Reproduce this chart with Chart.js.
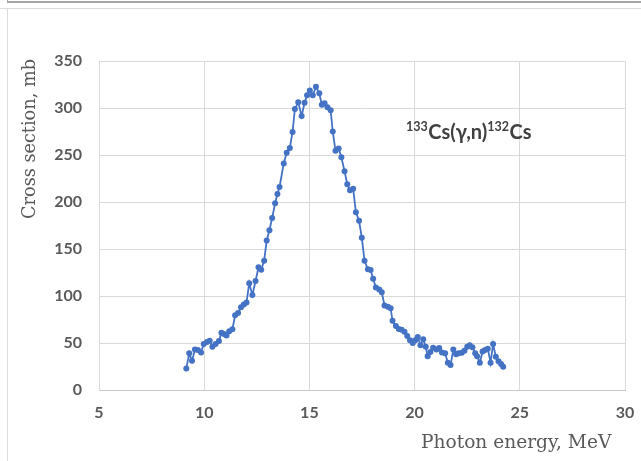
<!DOCTYPE html>
<html>
<head>
<meta charset="utf-8">
<script src="https://cdn.jsdelivr.net/npm/chart.js@4"></script>
<style>
  html, body { margin: 0; padding: 0; background: #fff; }
  #wrap { position: relative; width: 641px; height: 461px; }
</style>
</head>
<body>
<div id="wrap"><canvas id="c" width="641" height="461"></canvas></div>
<script>
// Photon energy (MeV)
const energy = [
  9.15, 9.29, 9.42, 9.56, 9.70, 9.85, 9.98, 10.13, 10.26, 10.39,
  10.54, 10.70, 10.82, 10.94, 11.06, 11.19, 11.34, 11.47, 11.61, 11.75,
  11.88, 12.01, 12.14, 12.29, 12.44, 12.58, 12.71, 12.85, 12.97, 13.10,
  13.23, 13.37, 13.48, 13.58, 13.78, 13.92, 14.07, 14.20, 14.31, 14.47,
  14.63, 14.77, 14.89, 15.02, 15.16, 15.31, 15.47, 15.59, 15.72, 15.86,
  16.01, 16.11, 16.24, 16.39, 16.52, 16.67, 16.80, 16.93, 17.08, 17.21,
  17.36, 17.49, 17.62, 17.78, 17.91, 18.03, 18.16, 18.32, 18.44, 18.57,
  18.73, 18.86, 18.95, 19.11, 19.25, 19.38, 19.52, 19.65, 19.78, 19.91,
  20.03, 20.15, 20.28, 20.41, 20.53, 20.62, 20.75, 20.88, 21.04, 21.17,
  21.30, 21.45, 21.58, 21.71, 21.84, 21.97, 22.09, 22.24, 22.37, 22.50,
  22.62, 22.75, 22.88, 22.97, 23.10, 23.23, 23.35, 23.48, 23.61, 23.73,
  23.86, 23.99, 24.11, 24.21
];
// Cross section (mb)
const crossSection = [
  23, 39, 31, 43, 42.5, 40, 49, 51, 52.5, 46,
  49, 52, 61, 59.6, 58, 62.5, 64.6, 79.5, 82, 88,
  91, 93, 113.5, 101, 116, 130.5, 128, 137.6, 159, 170,
  183, 198.6, 208.5, 216, 241, 252.5, 257.5, 274.5, 299, 306,
  291.5, 305.5, 313.5, 318.5, 313.5, 322.5, 315.7, 303.5, 305, 300.8,
  297.5, 275, 254.5, 257, 247.6, 232.8, 219, 212.5, 214, 189,
  180, 162, 137.6, 128.5, 127.7, 118.4, 109, 107, 104, 90,
  88.6, 87, 73.7, 68, 65, 64, 62, 57.5, 53, 50,
  53, 56.5, 47.5, 54, 46, 36, 40.4, 45, 43, 44.7,
  40, 39, 29, 26.5, 43, 38, 39, 39.7, 41.8, 46,
  47.5, 45.4, 39, 36, 29, 41, 42.5, 44, 29, 49,
  35.4, 30.5, 27.7, 24.8
];
const xTicks = [5, 10, 15, 20, 25, 30];
const yTicks = [0, 50, 100, 150, 200, 250, 300, 350];
const yTitle = "Cross section, mb";
const xTitle = "Photon energy, MeV";
const annotation = [["133", true], ["Cs(γ,n)", false], ["132", true], ["Cs", false]];

const points = energy.map((e, i) => ({ x: e, y: crossSection[i] }));

function fitFont(ctx, text, family, targetWidth) {
  ctx.font = '20px ' + family;
  const w = ctx.measureText(text).width;
  return 20 * targetWidth / w;
}

const decor = {
  id: 'decor',
  beforeDraw(chart) {
    const ctx = chart.ctx;
    ctx.save();
    ctx.fillStyle = '#ffffff';
    ctx.fillRect(0, 0, chart.width, chart.height);
    ctx.strokeStyle = '#a6a6a6';
    ctx.lineWidth = 2;
    ctx.beginPath(); ctx.moveTo(7, 2); ctx.lineTo(641, 2); ctx.stroke();
    ctx.lineWidth = 1;
    ctx.beginPath(); ctx.moveTo(7.5, 0); ctx.lineTo(7.5, 3); ctx.stroke();
    ctx.strokeStyle = '#dcdcdc';
    ctx.beginPath(); ctx.moveTo(0, 8.5); ctx.lineTo(641, 8.5); ctx.stroke();
    ctx.beginPath(); ctx.moveTo(7.5, 8.5); ctx.lineTo(7.5, 461); ctx.stroke();
    ctx.restore();
  },
  afterDraw(chart) {
    const ctx = chart.ctx;
    const serif = '"DejaVu Serif", serif';
    ctx.save();
    ctx.fillStyle = '#595959';
    let fs = fitFont(ctx, yTitle, serif, 160);
    ctx.font = fs.toFixed(1) + 'px ' + serif;
    ctx.save();
    ctx.translate(30, 139);
    ctx.rotate(-Math.PI / 2);
    ctx.textAlign = 'center';
    ctx.textBaseline = 'middle';
    ctx.fillText(yTitle, 0, 0);
    ctx.restore();
    fs = fitFont(ctx, xTitle, serif, 190);
    ctx.font = fs.toFixed(1) + 'px ' + serif;
    ctx.textAlign = 'left';
    ctx.textBaseline = 'alphabetic';
    ctx.fillText(xTitle, 421, 448);
    ctx.fillStyle = '#404040';
    let x = 406;
    const base = 139;
    annotation.forEach(([t, sup]) => {
      ctx.font = sup ? 'bold 12.5px Lato, sans-serif' : 'bold 20px Lato, sans-serif';
      ctx.fillText(t, x, sup ? base - 8 : base);
      x += ctx.measureText(t).width + (sup ? 0.5 : 0);
    });
    ctx.restore();
  }
};

new Chart(document.getElementById('c'), {
  type: 'scatter',
  data: {
    datasets: [{
      data: points,
      showLine: true,
      borderColor: '#4472C4',
      backgroundColor: '#4472C4',
      borderWidth: 1.8,
      pointRadius: 3,
      pointBorderWidth: 0,
      pointHoverRadius: 3,
      tension: 0
    }]
  },
  options: {
    responsive: false,
    animation: false,
    events: [],
    layout: { padding: { top: 61, right: 16, bottom: 0, left: 0 } },
    plugins: { legend: { display: false }, tooltip: { enabled: false } },
    scales: {
      x: {
        type: 'linear', min: 5, max: 30,
        afterBuildTicks: (s) => { s.ticks = xTicks.map(v => ({ value: v })); },
        afterFit: (s) => { s.height = 71; s.paddingLeft = 0; s.paddingRight = 0; },
        grid: { color: '#d9d9d9', lineWidth: 1, drawTicks: false },
        border: { color: '#c8c8c8', width: 1 },
        ticks: { padding: 13, color: '#595959', font: { family: 'Lato, sans-serif', size: 16, weight: 'bold' } }
      },
      y: {
        type: 'linear', min: 0, max: 350,
        afterBuildTicks: (s) => { s.ticks = yTicks.map(v => ({ value: v })); },
        afterFit: (s) => { s.width = 99; s.paddingTop = 0; s.paddingBottom = 0; },
        grid: { color: '#d9d9d9', lineWidth: 1, drawTicks: false },
        border: { color: '#d9d9d9', width: 1 },
        ticks: { padding: 17, color: '#595959', font: { family: 'Lato, sans-serif', size: 16, weight: 'bold' } }
      }
    }
  },
  plugins: [decor]
});
</script>
</body>
</html>
